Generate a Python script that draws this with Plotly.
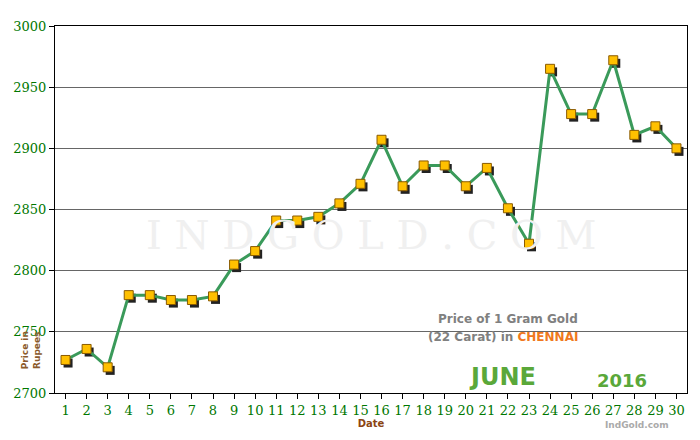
import plotly.graph_objects as go

dates = list(range(1, 31))
prices = [2727, 2736, 2721, 2780, 2780, 2776, 2776, 2779, 2805, 2816,
          2841, 2841, 2844, 2855, 2871, 2907, 2869, 2886, 2886, 2869,
          2884, 2851, 2822, 2965, 2928, 2928, 2972, 2911, 2918, 2900]
y_ticks = [2700, 2750, 2800, 2850, 2900, 2950, 3000]

fig = go.Figure()

# shadow under markers
fig.add_trace(go.Scatter(
    x=[d + 0.12 for d in dates], y=[p - 2.5 for p in prices], mode='markers',
    marker=dict(symbol='square', size=9, color='#222222'),
    hoverinfo='skip', showlegend=False))
fig.add_trace(go.Scatter(
    x=dates, y=prices, mode='lines+markers',
    line=dict(color='#3a9a5a', width=3),
    marker=dict(symbol='square', size=9, color='#ffc000',
                line=dict(color='#8a5a00', width=1)),
    showlegend=False))

fig.update_layout(
    width=684, height=424,
    margin=dict(l=47, r=5, t=18, b=39),
    plot_bgcolor='white', paper_bgcolor='white',
    font=dict(family='DejaVu Serif', color='#007700', size=13),
    xaxis=dict(range=[0.5, 30.5], tickvals=dates, showgrid=False,
               ticks='outside', ticklen=5, tickcolor='black',
               showline=True, linecolor='black', mirror=True,
               title=dict(text='<b>Date</b>', font=dict(family='DejaVu Sans', size=10, color='#8b4513'),
                          standoff=0)),
    yaxis=dict(range=[2700, 3000], tickvals=y_ticks, gridcolor='#666666',
               gridwidth=1, ticks='outside', ticklen=5,
               tickcolor='black', showline=True, linecolor='black', mirror=True,
               zeroline=False),
    annotations=[
        dict(text='<b>Price in<br>Rupees</b>', xref='paper', yref='paper', x=-0.058, y=0.06,
             textangle=-90, showarrow=False,
             font=dict(family='DejaVu Sans', size=9, color='#8b5a2b')),
        dict(text='I N D G O L D . C O M', xref='paper', yref='paper', x=0.5, y=0.43,
             showarrow=False, font=dict(family='DejaVu Serif', size=40, color='#f0f0f0')),
        dict(text='<b>Price of 1 Gram Gold</b>', xref='paper', yref='paper', x=0.83, y=0.176,
             showarrow=False, font=dict(family='DejaVu Sans', size=12, color='#808080')),
        dict(text='<b>(22 Carat) in <span style="color:#f07820">CHENNAI</span></b>',
             xref='paper', yref='paper', x=0.83, y=0.128, showarrow=False,
             font=dict(family='DejaVu Sans', size=12, color='#808080')),
        dict(text='<b>JUNE</b>', xref='paper', yref='paper', x=0.765, y=0.0,
             showarrow=False, font=dict(family='DejaVu Sans', size=24, color='#5aa83a')),
        dict(text='<b>2016</b>', xref='paper', yref='paper', x=0.94, y=0.0,
             showarrow=False, font=dict(family='DejaVu Sans', size=18, color='#5aa83a')),
        dict(text='<b>IndGold.com</b>', xref='paper', yref='paper', x=0.975, y=-0.105,
             showarrow=False, font=dict(family='DejaVu Sans', size=9, color='#aaaaaa')),
    ],
)

fig.write_html("out.html")
